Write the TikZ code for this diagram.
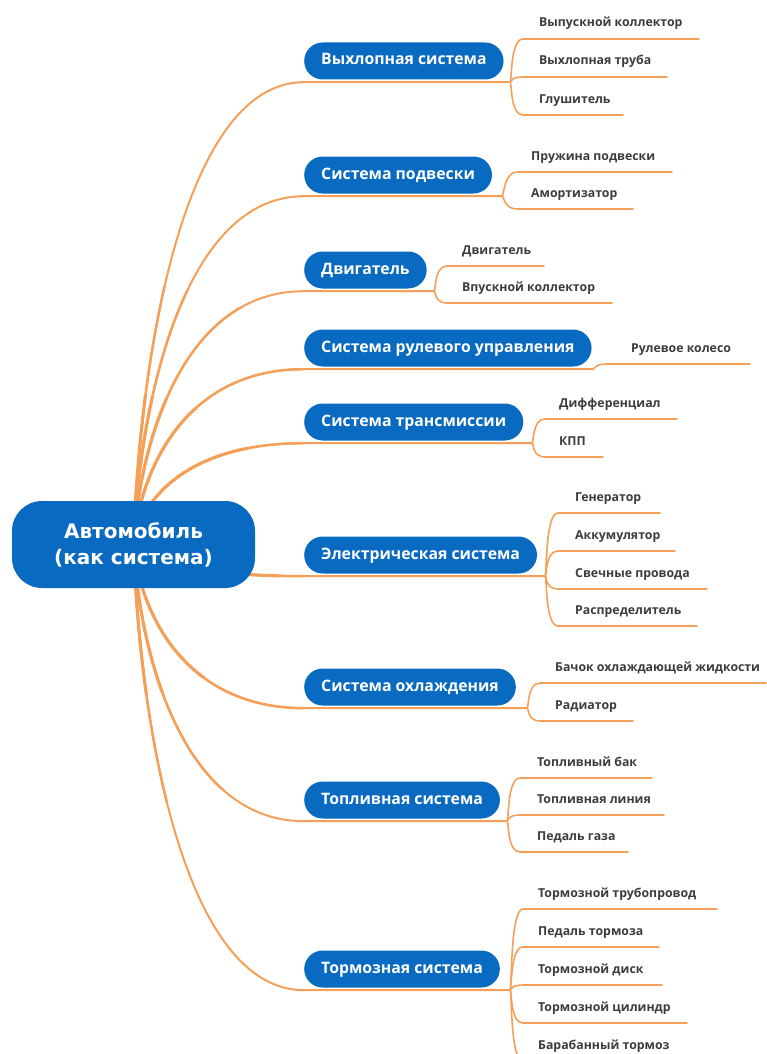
\documentclass[tikz,border=0pt]{standalone}
\usepackage{fontspec}
\setmainfont{Open Sans}
\newfontfamily\rootfont{DejaVu Sans}
\usetikzlibrary{calc}
\pgfdeclarelayer{bg}
\pgfsetlayers{bg,main}
\definecolor{mmblue}{RGB}{8,106,192}
\definecolor{mmorange}{RGB}{245,160,88}
\definecolor{mmtext}{RGB}{60,60,60}
\tikzset{
  rootbox/.style={fill=mmblue, rounded corners=30pt, minimum width=243pt, minimum height=87pt,
    text=white, font=\rootfont\bfseries\fontsize{20}{26}\selectfont, align=center},
  branchbox/.style={fill=mmblue, rounded corners=18.5pt, minimum height=37pt, inner xsep=17pt,
    inner ysep=0pt, text=white, font=\bfseries\fontsize{15.8}{18}\selectfont,
    text height=11pt, text depth=3pt, anchor=west},
  leaftext/.style={text=mmtext, font=\bfseries\fontsize{12.3}{14}\selectfont, inner sep=0pt, anchor=base west},
  trunk/.style={draw=mmorange, line width=2pt, line cap=round},
  twig/.style={draw=mmorange, line width=1.6pt, line cap=round},
}
% #1 name, #2 fork coordinate, #3 underline start x, #4 underline y, #5 text x, #6 end x, #7 text
\newcommand\mmleaf[7]{%
  \coordinate (#1a) at (#3,#4);
  \coordinate (#1b) at (#6,#4);
  \node[leaftext] (#1) at (#5,#4-12) {#7};
  \begin{pgfonlayer}{bg}
  \draw[twig] (#2) .. controls ($(#2)+(2,0)$) and ($(#1a)+(-13,0)$) .. (#1a) -- (#1b);
  \end{pgfonlayer}
}
% #1 name, #2 line y, #3 fork x, #4 first control y, #5 text
\newcommand\mmbranch[5]{%
  \node[branchbox] (#1) at (304,#2-21) {#5};
  \coordinate (#1l) at ([yshift=-2.5pt]#1.south west);
  \coordinate (#1f) at (#3,#2);
  \begin{pgfonlayer}{bg}
  \draw[trunk] (root.center) .. controls (140,#4) and (185,#2) .. (#1l) -- (#1f);
  \begin{scope}
    \clip (root.center) circle (260);
    \draw[trunk, line width=2.5pt] (root.center) .. controls (140,#4) and (185,#2) .. (#1l);
  \end{scope}
  \begin{scope}
    \clip (root.center) circle (150);
    \draw[trunk, line width=3.1pt] (root.center) .. controls (140,#4) and (185,#2) .. (#1l);
  \end{scope}
  \end{pgfonlayer}
}
\begin{document}
\begin{tikzpicture}[x=1pt,y=-1pt]
\useasboundingbox (0,0) rectangle (766,1054);
\clip (0,0) rectangle (766,1054);

\node[rootbox] (root) at (133.5,544.5) {Автомобиль\\(как система)};

\mmbranch{b1}{82}{510}{350}{Выхлопная система}
\mmleaf{l11}{b1f}{523}{39}{539}{699}{Выпускной коллектор}
\mmleaf{l12}{b1f}{523}{77}{539}{667}{Выхлопная труба}
\mmleaf{l13}{b1f}{523}{115}{539}{623}{Глушитель}

\mmbranch{b2}{196}{502}{398}{Система подвески}
\mmleaf{l21}{b2f}{517}{172}{531}{672}{Пружина подвески}
\mmleaf{l22}{b2f}{517}{209}{531}{633}{Амортизатор}

\mmbranch{b3}{291}{434}{438}{Двигатель}
\mmleaf{l31}{b3f}{447}{266}{462}{544}{Двигатель}
\mmleaf{l32}{b3f}{447}{303}{462}{612}{Впускной коллектор}

\mmbranch{b4}{369}{593}{470}{Система рулевого управления}
\mmleaf{l41}{b4f}{607}{364}{631}{750}{Рулевое колесо}

\mmbranch{b5}{443}{532}{502}{Система трансмиссии}
\mmleaf{l51}{b5f}{545}{419}{559}{677}{Дифференциал}
\mmleaf{l52}{b5f}{545}{457}{559}{603}{КПП}

\mmbranch{b6}{576}{545}{557}{Электрическая система}
\mmleaf{l61}{b6f}{558}{513}{575}{660}{Генератор}
\mmleaf{l62}{b6f}{558}{551}{575}{675}{Аккумулятор}
\mmleaf{l63}{b6f}{558}{589}{575}{707}{Свечные провода}
\mmleaf{l64}{b6f}{558}{626}{575}{697}{Распределитель}

\mmbranch{b7}{708}{527}{613}{Система охлаждения}
\mmleaf{l71}{b7f}{540}{683}{555}{766}{Бачок охлаждающей жидкости}
\mmleaf{l72}{b7f}{540}{721}{555}{633}{Радиатор}

\mmbranch{b8}{821}{507}{660}{Топливная система}
\mmleaf{l81}{b8f}{520}{778}{537}{652}{Топливный бак}
\mmleaf{l82}{b8f}{520}{815}{537}{664}{Топливная линия}
\mmleaf{l83}{b8f}{520}{852}{537}{628}{Педаль газа}

\mmbranch{b9}{990}{510}{731}{Тормозная система}
\mmleaf{l91}{b9f}{523}{909}{538}{717}{Тормозной трубопровод}
\mmleaf{l92}{b9f}{523}{947}{538}{659}{Педаль тормоза}
\mmleaf{l93}{b9f}{523}{985}{538}{662}{Тормозной диск}
\mmleaf{l94}{b9f}{523}{1023}{538}{687}{Тормозной цилиндр}
\mmleaf{l95}{b9f}{523}{1061}{538}{700}{Барабанный тормоз}
\end{tikzpicture}
\end{document}
